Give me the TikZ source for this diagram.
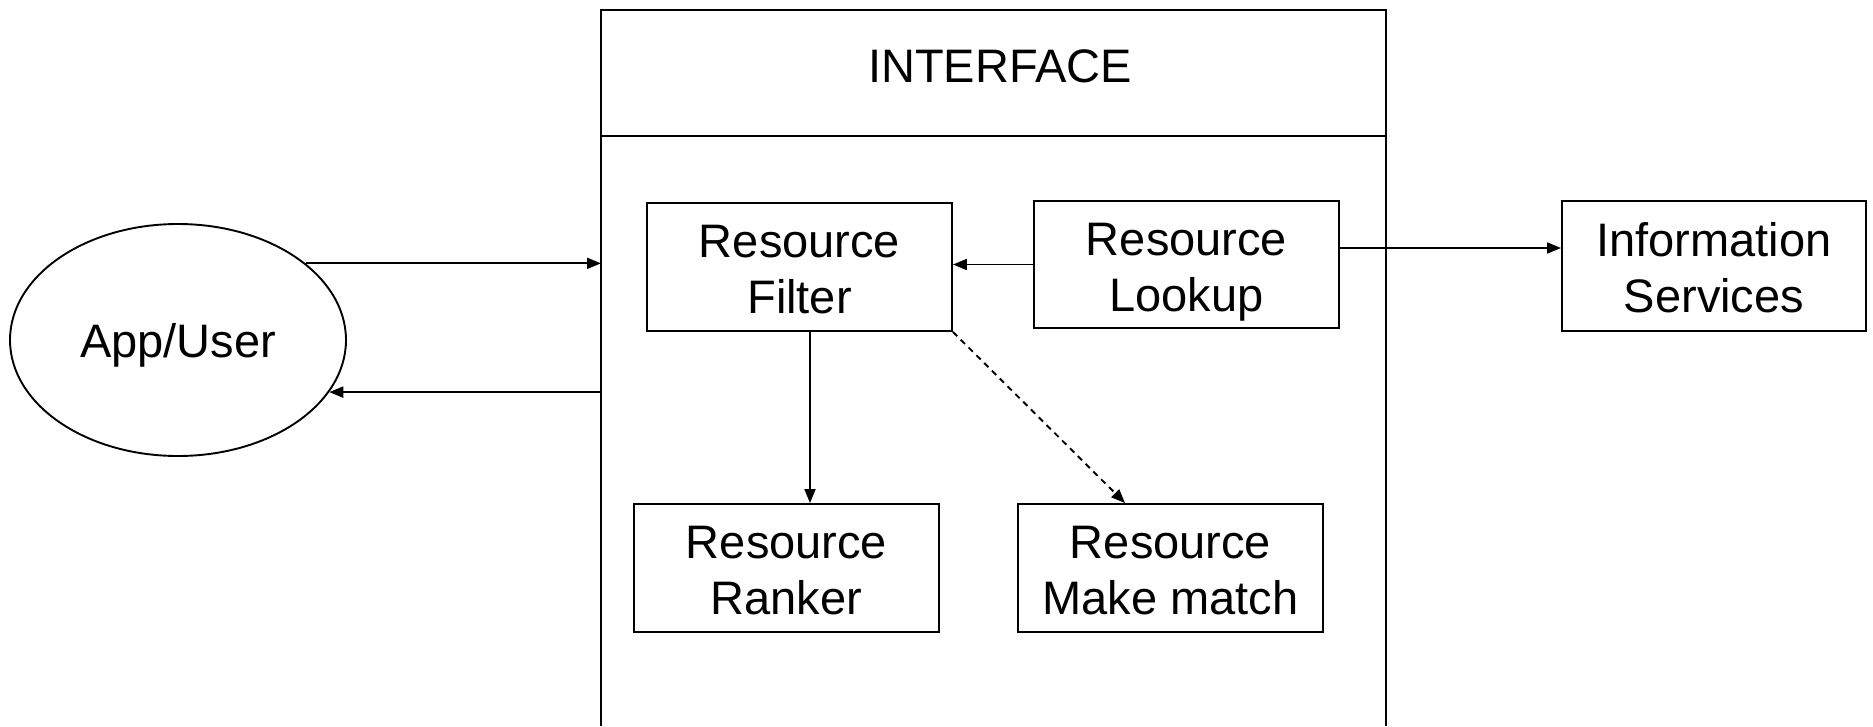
\documentclass[tikz,border=0pt]{standalone}
\usepackage{fontspec}
\setmainfont{Liberation Sans}
\usetikzlibrary{shapes.geometric,arrows.meta,calc}
\newcommand\twolines[2]{\rule{0pt}{49.6pt}#1\\#2\rule[-12pt]{0pt}{12pt}}
\begin{document}
\begin{tikzpicture}[x=1pt,y=-1pt,
  line width=1.9pt,
  every node/.style={font=\fontsize{47}{56}\selectfont, inner sep=0pt},
  blk/.style={draw, rectangle, minimum width=305pt, minimum height=128pt, align=center},
  arr/.style={-{Triangle[length=14pt,width=11pt]}},
  dsh/.style={dash pattern=on 6pt off 5pt}]
\useasboundingbox (0,0) rectangle (1873,726);
% interface box (open at the bottom)
\coordinate (ifbl) at (601,726);
\coordinate (iftl) at (601,10);
\coordinate (iftr) at (1386,10);
\coordinate (ifbr) at (1386,726);
\coordinate (divl) at (601,136);
\coordinate (divr) at (1386,136);
\draw (ifbl) -- (iftl) -- (iftr) -- (ifbr);
\draw (divl) -- (divr);
\node (title) at (1000,66) {INTERFACE};
% nodes
\node[draw, ellipse, minimum width=336pt, minimum height=232pt, text height=34pt, text depth=0pt] (app) at (178,340) {App/User};
\node[blk] (filter) at (799.5,267) {\twolines{Resource}{Filter}};
\node[blk, minimum height=127pt] (lookup) at (1186.5,264.5) {\twolines{Resource}{Lookup}};
\node[blk, minimum width=304pt, minimum height=130pt] (info) at (1714,266) {\twolines{Information}{Services}};
\node[blk] (ranker) at (786.5,568) {\twolines{Resource}{Ranker}};
\node[blk] (match) at (1170.5,568) {\twolines{Resource}{Make match}};
% connectors
\draw[arr] (app.31) -- (app.31 -| iftl);
\draw[arr] (app.-19 -| iftl) -- (app.-19);
\draw[arr] (lookup.west) -- (lookup.west -| filter.east);
\coordinate (lkout) at ($(lookup.east)+(0,-16.5)$);
\draw[arr] (lkout) -- (lkout -| info.west);
\coordinate (fdown) at ($(filter.south)+(10.5,0)$);
\draw[arr] (fdown) -- (fdown |- ranker.north);
\coordinate (mtop) at ($(match.north west)+(108,0)$);
\draw[arr, dsh] (filter.south east) -- (mtop);
\end{tikzpicture}
\end{document}
